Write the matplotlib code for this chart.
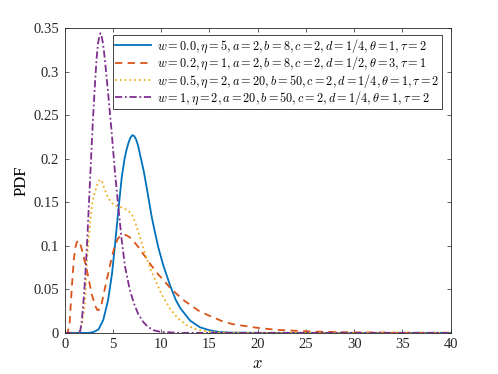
import matplotlib
matplotlib.use('Agg')
import matplotlib.pyplot as plt

plt.rcParams['font.family'] = ['Liberation Serif', 'DejaVu Serif']
plt.rcParams['mathtext.fontset'] = 'cm'

# curve values
x_blue = [0, 2.5, 3.0, 3.5, 4.0, 4.5, 4.9, 5.2, 5.55, 5.9, 6.2, 6.4, 6.6, 6.8, 7.0, 7.2, 7.4,
          7.6, 7.8, 8.2, 8.6, 9.0, 9.3, 9.7, 10.2, 10.9, 11.5, 12.0, 13.0, 14.0, 15.0, 16.0,
          17.0, 20, 40]
y_blue = [0, 0, 0.001, 0.004, 0.015, 0.038, 0.068, 0.1, 0.14, 0.178, 0.2, 0.21, 0.218, 0.224,
          0.227, 0.226, 0.222, 0.215, 0.205, 0.185, 0.16, 0.134, 0.118, 0.098, 0.078, 0.055,
          0.038, 0.028, 0.014, 0.0065, 0.003, 0.001, 0.0003, 0, 0]

x_orange = [0, 0.3, 0.5, 0.75, 0.95, 1.1, 1.25, 1.4, 1.55, 1.7, 1.9, 2.3, 2.8, 3.2, 3.4, 3.6,
            3.8, 4.1, 4.5, 4.9, 5.2, 5.5, 5.8, 6.1, 6.4, 6.7, 7.0, 7.6, 8.3, 9.0, 9.7, 10.2,
            10.9, 12.25, 14.0, 15.2, 16.4, 17.4, 18.6, 19.8, 22, 25.6, 30, 35, 40]
y_orange = [0, 0, 0.01, 0.055, 0.085, 0.098, 0.104, 0.106, 0.104, 0.099, 0.09, 0.072, 0.044,
            0.03, 0.026, 0.027, 0.032, 0.048, 0.068, 0.088, 0.1, 0.108, 0.112, 0.113, 0.112,
            0.110, 0.107, 0.099, 0.088, 0.077, 0.067, 0.061, 0.052, 0.038, 0.0245, 0.0187,
            0.013, 0.01, 0.008, 0.006, 0.0034, 0.0015, 0.0005, 0.0001, 0]

x_yellow = [0, 1.3, 1.6, 1.8, 2.1, 2.3, 2.5, 2.8, 3.0, 3.3, 3.5, 3.7, 3.85, 4.0, 4.2, 4.5, 4.8,
            5.1, 5.5, 5.9, 6.3, 6.7, 7.0, 7.3, 7.6, 8.0, 8.5, 9.0, 9.5, 10.0, 10.9, 11.7, 12.6,
            13.5, 14.3, 16, 18, 40]
y_yellow = [0, 0, 0.002, 0.012, 0.036, 0.085, 0.11, 0.145, 0.157, 0.168, 0.174, 0.176, 0.174,
            0.169, 0.163, 0.155, 0.15, 0.147, 0.145, 0.144, 0.142, 0.139, 0.135, 0.127, 0.117,
            0.102, 0.085, 0.07, 0.058, 0.045, 0.028, 0.017, 0.009, 0.0045, 0.0023, 0.0005, 0, 0]

x_purple = [0, 1.2, 1.6, 1.75, 1.9, 2.1, 2.3, 2.6, 2.9, 3.1, 3.3, 3.45, 3.6, 3.7, 3.8, 3.95,
            4.1, 4.3, 4.5, 4.85, 5.2, 5.55, 5.9, 6.25, 6.75, 7.2, 7.6, 8.1, 8.6, 9.2, 10, 12, 40]
y_purple = [0, 0, 0.002, 0.012, 0.03, 0.06, 0.10, 0.17, 0.24, 0.28, 0.315, 0.332, 0.342, 0.344,
            0.342, 0.333, 0.32, 0.298, 0.275, 0.232, 0.185, 0.145, 0.107, 0.076, 0.049, 0.033,
            0.022, 0.013, 0.007, 0.003, 0.001, 0, 0]

labels = [r'$w=0.0,\eta=5,a=2,b=8,c=2,d=1/4,\theta=1,\tau=2$',
          r'$w=0.2,\eta=1,a=2,b=8,c=2,d=1/2,\theta=3,\tau=1$',
          r'$w=0.5,\eta=2,a=20,b=50,c=2,d=1/4,\theta=1,\tau=2$',
          r'$w=1,\eta=2,a=20,b=50,c=2,d=1/4,\theta=1,\tau=2$']

fig = plt.figure(figsize=(4.98, 3.74), dpi=100)
ax = fig.add_axes([0.13, 0.11, 0.775, 0.815])

lw = 1.3
ax.plot(x_blue, y_blue, '-', color='#0072BD', lw=lw, label=labels[0])
ax.plot(x_orange, y_orange, '--', color='#D95319', lw=lw, label=labels[1], dashes=(4, 3))
ax.plot(x_yellow, y_yellow, ':', color='#EDB120', lw=lw, label=labels[2])
ax.plot(x_purple, y_purple, '-.', color='#7E2F8E', lw=lw, label=labels[3], dashes=(4, 1.5, 1, 1.5))

ax.set_xlim(0, 40)
ax.set_ylim(0, 0.35)
ax.set_xticks(range(0, 41, 5))
ax.set_yticks([0, 0.05, 0.1, 0.15, 0.2, 0.25, 0.3, 0.35])
ax.set_yticklabels(['0', '0.05', '0.1', '0.15', '0.2', '0.25', '0.3', '0.35'])
ax.tick_params(direction='in', top=True, right=True, length=3, width=0.5,
               labelsize=10.5, colors='#262626', pad=4)
for s in ax.spines.values():
    s.set_linewidth(0.6)
    s.set_color('#262626')

ax.set_xlabel(r'$x$', fontsize=12, labelpad=3)
ax.set_ylabel('PDF', fontsize=12, labelpad=3)

leg = ax.legend(loc='upper right', fontsize=8.8, handlelength=2.9, handletextpad=0.5,
                borderpad=0.2, labelspacing=0.0, fancybox=False, framealpha=1,
                borderaxespad=0, bbox_to_anchor=(0.977, 0.977))
leg.get_frame().set_edgecolor('#262626')
leg.get_frame().set_linewidth(0.6)

fig.savefig('out.png', dpi=100)
